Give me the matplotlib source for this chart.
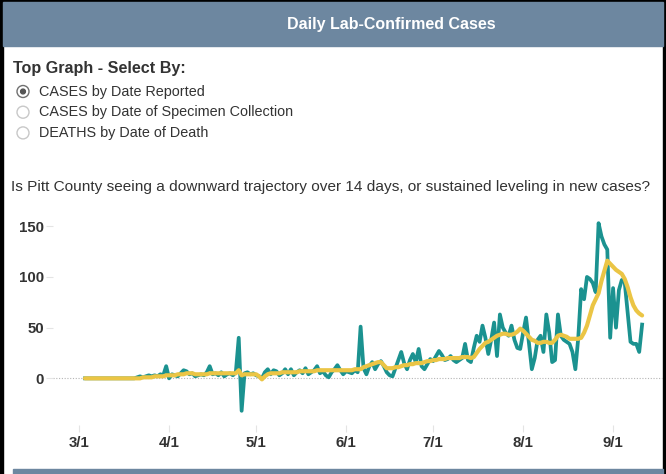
import numpy as np
import matplotlib
matplotlib.use("Agg")
import matplotlib.pyplot as plt
import matplotlib.dates as mdates
from matplotlib.patches import Rectangle, Circle

plt.rcParams['font.family'] = ['Liberation Sans', 'DejaVu Sans']

# daily cases by date reported, 3/3 .. 9/11
start_date = '2020-03-03'
cases = ([0] * 18
         + [1, 2, 1, 2, 3, 2, 3, 2, 4, 3]
         + [12, 0, 4, 3, 2, 5, 8, 7, 4, 5]
         + [2, 3, 4, 3, 6, 12, 4, 5, 3, 6]
         + [2, 4, 5, 3, 6, 40, -32, 5, 6, 4]
         + [5, 3, 2, 0, 6, 9, 4, 8, 7, 3]
         + [5, 9, 4, 9, 3, 6, 8, 5, 10, 4]
         + [6, 8, 12, 5, 7, 3, 1, 6, 9, 13]
         + [8, 4, 7, 6, 5, 8, 6, 51, 10, 4]
         + [12, 16, 9, 14, 17, 12, 6, 3, 2, 10]
         + [18, 26, 15, 9, 18, 24, 16, 29, 12, 9]
         + [14, 19, 17, 22, 27, 23, 18, 19, 22, 18]
         + [16, 18, 20, 34, 18, 16, 30, 42, 36, 52]
         + [40, 24, 38, 55, 22, 63, 50, 45, 42, 52]
         + [38, 30, 29, 45, 60, 35, 9, 20, 38, 42]
         + [26, 63, 45, 16, 18, 63, 42, 38, 36, 34]
         + [26, 9, 40, 88, 78, 100, 98, 94, 85, 153]
         + [140, 132, 127, 40, 89, 50, 87, 97, 95, 65]
         + [36, 34, 34, 26, 53])

# 7-day average (yellow line)
avg7 = ([0] * 19
        + [0, 1, 1, 1, 1, 2, 2, 2, 2, 3]
        + [3, 3, 3, 4, 4, 4, 5, 5, 5, 4]
        + [4, 4, 4, 4, 5, 5, 5, 5, 5, 5]
        + [5, 5, 5, 5, 8, 3, 4, 4, 4, 4]
        + [4, 2, -1, 2, 4, 5, 5, 5, 5, 6]
        + [6, 6, 6, 6, 6, 7, 7, 7, 7, 7]
        + [7, 8, 8, 8, 8, 8, 8, 8, 8, 8]
        + [8, 8, 8, 8, 9, 9, 9, 11, 12, 13]
        + [14, 15, 16, 16, 13, 10, 10, 10, 11, 11]
        + [12, 13, 13, 14, 14, 15, 15, 15, 16, 17]
        + [17, 18, 18, 19, 19, 19, 20, 20, 20, 20]
        + [20, 21, 21, 21, 20, 21, 25, 29, 32, 35]
        + [36, 38, 40, 42, 43, 44, 44, 43, 43, 44]
        + [46, 49, 47, 44, 41, 38, 37, 35, 35, 36]
        + [36, 35, 35, 38, 42, 43, 42, 41, 39, 39]
        + [39, 39, 40, 45, 52, 62, 72, 78, 84, 96]
        + [106, 116, 113, 110, 107, 105, 103, 98, 90, 80]
        + [72, 67, 64, 62])

tick_dates = ['2020-03-01', '2020-04-01', '2020-05-01', '2020-06-01',
              '2020-07-01', '2020-08-01', '2020-09-01']
tick_labels = ['3/1', '4/1', '5/1', '6/1', '7/1', '8/1', '9/1']
y_ticks = [0, 50, 100, 150]

options = ['CASES by Date Reported',
           'CASES by Date of Specimen Collection',
           'DEATHS by Date of Death']

dates = np.arange(np.datetime64(start_date), np.datetime64(start_date) + len(cases))

W, H = 666, 474
header_blue = '#6D87A0'
text_col = '#333333'

fig = plt.figure(figsize=(W / 100, H / 100), dpi=100)

# background layer in pixel coordinates
bg = fig.add_axes([0, 0, 1, 1])
bg.set_xlim(0, W)
bg.set_ylim(H, 0)
bg.axis('off')

bg.add_patch(Rectangle((0, 0), 3, H, color='black'))
bg.add_patch(Rectangle((0, 0), W, 2, color='black'))
bg.add_patch(Rectangle((663, 0), 3, H, color='black'))
bg.add_patch(Rectangle((3, 2), 660, 44, color=header_blue))
bg.add_patch(Rectangle((13, 469), 650, 5, color=header_blue))

bg.text(391, 24, 'Daily Lab-Confirmed Cases', color='white', fontsize=11.5,
        fontweight='bold', ha='center', va='center')
bg.text(13, 68, 'Top Graph - Select By:', color=text_col, fontsize=11.6,
        fontweight='bold', ha='left', va='center')

for i, opt in enumerate(options):
    yy = 91.5 + i * 20.7
    sel = (i == 0)
    bg.add_patch(Circle((23, yy), 6.0, facecolor='white',
                        edgecolor='#707070' if sel else '#c8c8c8', lw=1.0))
    if sel:
        bg.add_patch(Circle((23, yy), 2.4, color='#555555'))
    bg.text(39, yy, opt, color=text_col, fontsize=10.4, ha='left', va='center')

bg.text(11, 187, 'Is Pitt County seeing a downward trajectory over 14 days, '
        'or sustained leveling in new cases?', color=text_col, fontsize=11.1,
        ha='left', va='center')

# chart axes: pixels 53..663 wide, 210..425 tall
ax_l, ax_r, ax_t, ax_b = 53, 663, 210, 425
ax = fig.add_axes([ax_l / W, 1 - ax_b / H, (ax_r - ax_l) / W, (ax_b - ax_t) / H])
ax.patch.set_alpha(0)

ax.axhline(0, color='#b5b5b5', lw=0.8, ls=(0, (1, 1.5)), zorder=1)
ax.plot(dates, cases, color='#1B9290', lw=2.7, solid_joinstyle='round', zorder=2)
ax.plot(dates, avg7, color='#EBC545', lw=3.0, solid_joinstyle='round',
        solid_capstyle='round', zorder=3)

x0 = np.datetime64('2020-03-01')
ax.set_xlim(mdates.date2num(x0) - 9.0, mdates.date2num(x0) + 201.2)
ax.set_ylim(-46, 166)

ax.set_xticks(mdates.date2num(np.array(tick_dates, dtype='datetime64[D]')))
ax.set_xticklabels(tick_labels)
ax.set_yticks(y_ticks)
ax.set_yticklabels([str(v) for v in y_ticks])

for s in ax.spines.values():
    s.set_visible(False)
ax.tick_params(axis='both', length=5, width=0.8, color='#e4e4e4',
               labelcolor=text_col, labelsize=10.8)
ax.tick_params(axis='x', pad=3)
ax.tick_params(axis='y', pad=1.5)
for lab in ax.get_xticklabels() + ax.get_yticklabels():
    lab.set_fontweight('bold')

fig.savefig('out.png', dpi=100)
